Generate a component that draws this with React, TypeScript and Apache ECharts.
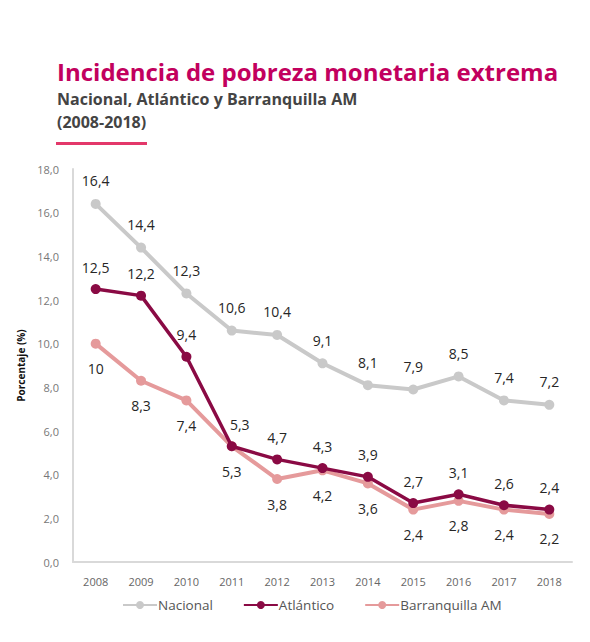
import React, { useEffect, useRef } from "react";
import * as echarts from "echarts";

const years = ["2008", "2009", "2010", "2011", "2012", "2013", "2014", "2015", "2016", "2017", "2018"];
const nacional = [16.4, 14.4, 12.3, 10.6, 10.4, 9.1, 8.1, 7.9, 8.5, 7.4, 7.2];
const atlantico = [12.5, 12.2, 9.4, 5.3, 4.7, 4.3, 3.9, 2.7, 3.1, 2.6, 2.4];
const barranquilla = [10, 8.3, 7.4, 5.3, 3.8, 4.2, 3.6, 2.4, 2.8, 2.4, 2.2];

const FONT = "'Open Sans', 'Noto Sans', sans-serif";
const fmt = (v: number) => String(v).replace(".", ",");

export default function App() {
  const ref = useRef<HTMLDivElement>(null);
  useEffect(() => {
    if (!ref.current) return;
    const chart = echarts.init(ref.current, null, { renderer: "svg" });
    const labelStyle = {
      show: true,
      fontFamily: FONT,
      fontSize: 14,
      color: "#262626",
      formatter: (p: any) => fmt(p.value),
    };
    chart.setOption({
      animation: false,
      backgroundColor: "#fff",
      graphic: [
        { type: "text", left: 49, top: 51, style: { text: "Incidencia de pobreza monetaria extrema", font: `bold 24px ${FONT}`, fill: "#c2005e" } },
        { type: "text", left: 49, top: 83, style: { text: "Nacional, Atlántico y Barranquilla AM", font: `bold 16px ${FONT}`, fill: "#444" } },
        { type: "text", left: 49, top: 106, style: { text: "(2008-2018)", font: `bold 16px ${FONT}`, fill: "#444" } },
        { type: "rect", shape: { x: 48, y: 134, width: 91, height: 3 }, style: { fill: "#e3386a" } },
      ],
      grid: { left: 54, right: 10, top: 161, bottom: 72, containLabel: false },
      legend: {
        bottom: 17,
        left: 109,
        itemWidth: 34,
        itemHeight: 10,
        itemGap: 30,
        textStyle: { fontFamily: FONT, fontSize: 13.5, color: "#555", padding: [0, 0, 0, -4] },
        data: ["Nacional", "Atlántico", "Barranquilla AM"],
      },
      xAxis: {
        type: "category",
        data: years,
        boundaryGap: true,
        axisLine: { lineStyle: { color: "#d9d9d9", width: 2 } },
        axisTick: { show: false },
        axisLabel: { fontFamily: FONT, fontSize: 11, color: "#666", margin: 14 },
      },
      yAxis: {
        type: "value",
        min: 0,
        max: 18,
        interval: 2,
        name: "Porcentaje (%)",
        nameLocation: "middle",
        nameGap: 47,
        nameRotate: 90,
        nameTextStyle: { fontFamily: FONT, fontSize: 10, fontWeight: "bold", color: "#111" },
        axisLine: { show: true, lineStyle: { color: "#d9d9d9", width: 2 } },
        axisTick: { show: false },
        splitLine: { show: false },
        axisLabel: { fontFamily: FONT, fontSize: 11, color: "#777", margin: 14, formatter: (v: number) => v.toFixed(1).replace(".", ",") },
      },
      series: [
        {
          name: "Nacional",
          type: "line",
          data: nacional,
          symbol: "circle",
          symbolSize: 10,
          color: "#c9c9c9",
          lineStyle: { width: 4, color: "#c9c9c9" },
          itemStyle: { color: "#c9c9c9" },
          label: { ...labelStyle, position: "top", distance: 11 },
        },
        {
          name: "Atlántico",
          type: "line",
          data: atlantico,
          symbol: "circle",
          symbolSize: 10,
          color: "#8a0a44",
          lineStyle: { width: 3.5, color: "#8a0a44" },
          itemStyle: { color: "#8a0a44" },
          label: { ...labelStyle, position: "top", distance: 10 },
          labelLayout: (p: any) => (p.dataIndex === 3 ? { dx: 8 } : {}),
          z: 3,
        },
        {
          name: "Barranquilla AM",
          type: "line",
          data: barranquilla,
          symbol: "circle",
          symbolSize: 10,
          color: "#e59a9b",
          lineStyle: { width: 4, color: "#e59a9b" },
          itemStyle: { color: "#e59a9b" },
          label: { ...labelStyle, position: "bottom", distance: 13 },
          z: 2,
        },
      ],
    });
    return () => chart.dispose();
  }, []);
  return <div ref={ref} style={{ width: 574, height: 626 }} />;
}
